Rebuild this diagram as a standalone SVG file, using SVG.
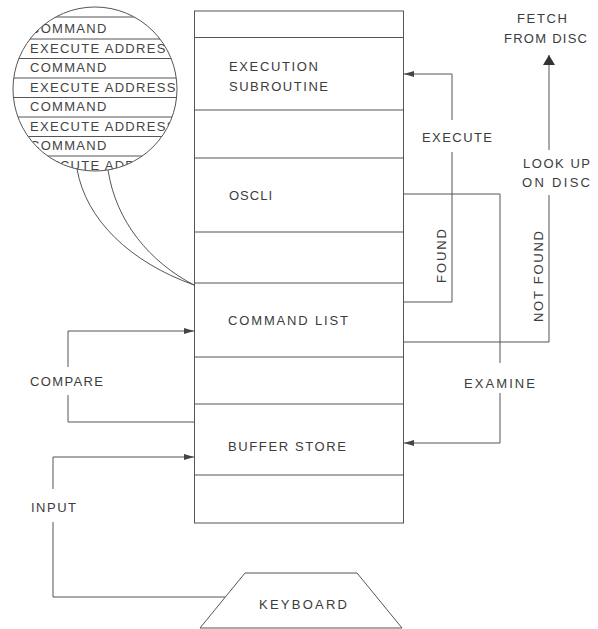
<svg xmlns="http://www.w3.org/2000/svg" width="598" height="629" viewBox="0 0 598 629">
<style>
  .ln{fill:none;stroke:#555;stroke-width:1}
  .t{font-family:"Liberation Sans",Arial,sans-serif;font-size:13px;fill:#3c3c3c}
  .ct{font-family:"Liberation Sans",Arial,sans-serif;font-size:13px;fill:#444;letter-spacing:1.3px}
</style>
<defs>
  <marker id="ah" viewBox="0 0 10 6" refX="10" refY="3" markerWidth="10" markerHeight="6" markerUnits="userSpaceOnUse" orient="auto">
    <path d="M0,0 L10,3 L0,6 Z" fill="#444"/>
  </marker>
  <marker id="big" viewBox="0 0 10 12" refX="10" refY="6" markerWidth="10" markerHeight="12" markerUnits="userSpaceOnUse" orient="auto">
    <path d="M0,0 L10,6 L0,12 Z" fill="#333"/>
  </marker>
  <clipPath id="lens"><circle cx="95" cy="89" r="82"/></clipPath>
</defs>
<rect width="598" height="629" fill="#fff"/>

<g id="memory">
  <rect class="ln" x="194.5" y="11" width="209" height="512"/>
  <path class="ln" d="M194.5,37.5H403.5 M194.5,110H403.5 M194.5,158H403.5 M194.5,232H403.5 M194.5,283H403.5 M194.5,357H403.5 M194.5,404H403.5 M194.5,475H403.5"/>
</g>
<g id="execution-subroutine">
  <text class="t" x="229" y="71" textLength="89" lengthAdjust="spacing">EXECUTION</text>
  <text class="t" x="229" y="91" textLength="99" lengthAdjust="spacing">SUBROUTINE</text>
</g>
<g id="oscli">
  <text class="t" x="229" y="200" textLength="43" lengthAdjust="spacing">OSCLI</text>
</g>
<g id="command-list">
  <text class="t" x="228" y="325" textLength="120" lengthAdjust="spacing">COMMAND LIST</text>
</g>
<g id="buffer-store">
  <text class="t" x="228" y="451" textLength="118" lengthAdjust="spacing">BUFFER STORE</text>
</g>
<g id="keyboard">
  <path class="ln" d="M245,573 H357 L402,628 H200 Z"/>
  <text class="t" x="259" y="609" textLength="88" lengthAdjust="spacing">KEYBOARD</text>
</g>
<g id="fetch">
  <text class="t" x="517" y="23" textLength="50" lengthAdjust="spacing">FETCH</text>
  <text class="t" x="504" y="43" textLength="83" lengthAdjust="spacing">FROM DISC</text>
</g>

<g id="magnifier">
  <g clip-path="url(#lens)">
    <path class="ln" d="M0,17H200 M0,39H200 M0,58.5H200 M0,78H200 M0,97.5H200 M0,117H200 M0,136.5H200 M0,156H200"/>
    <text class="ct" x="30" y="33">COMMAND</text>
    <text class="ct" x="30" y="52.5">EXECUTE ADDRESS</text>
    <text class="ct" x="30" y="72">COMMAND</text>
    <text class="ct" x="30" y="91.5">EXECUTE ADDRESS</text>
    <text class="ct" x="30" y="111">COMMAND</text>
    <text class="ct" x="30" y="130.5">EXECUTE ADDRESS</text>
    <text class="ct" x="30" y="150">COMMAND</text>
    <text class="ct" x="30" y="169.5">EXECUTE ADDRESS</text>
  </g>
  <circle class="ln" cx="95" cy="89" r="82"/>
  <path class="ln" d="M77,169 C86,220 130,262 194,285 M108,170 C116,222 150,262 194,285"/>
</g>

<g id="connectors">
  <path class="ln" d="M404,302 H452 V152"/>
  <path class="ln" d="M452,120 V74 H404" marker-end="url(#ah)"/>
  <path class="ln" d="M404,342 H549 V195"/>
  <path class="ln" d="M549,150 V55" marker-end="url(#big)"/>
  <path class="ln" d="M404,194 H500 V363"/>
  <path class="ln" d="M500,393 V443 H404" marker-end="url(#ah)"/>
  <path class="ln" d="M194,422 H68 V395"/>
  <path class="ln" d="M68,367 V331 H194" marker-end="url(#ah)"/>
  <path class="ln" d="M225,597 H53 V522"/>
  <path class="ln" d="M53,489 V457 H194" marker-end="url(#ah)"/>
  <text class="t" x="422" y="142" textLength="70" lengthAdjust="spacing">EXECUTE</text>
  <text class="t" transform="translate(446,283) rotate(-90)" textLength="54" lengthAdjust="spacing">FOUND</text>
  <text class="t" transform="translate(543,322) rotate(-90)" textLength="91" lengthAdjust="spacing">NOT FOUND</text>
  <text class="t" x="523" y="168" textLength="67" lengthAdjust="spacing">LOOK UP</text>
  <text class="t" x="522" y="187" textLength="68" lengthAdjust="spacing">ON DISC</text>
  <text class="t" x="464" y="388" textLength="71" lengthAdjust="spacing">EXAMINE</text>
  <text class="t" x="30" y="386" textLength="73" lengthAdjust="spacing">COMPARE</text>
  <text class="t" x="31" y="512" textLength="45" lengthAdjust="spacing">INPUT</text>
</g>
</svg>
